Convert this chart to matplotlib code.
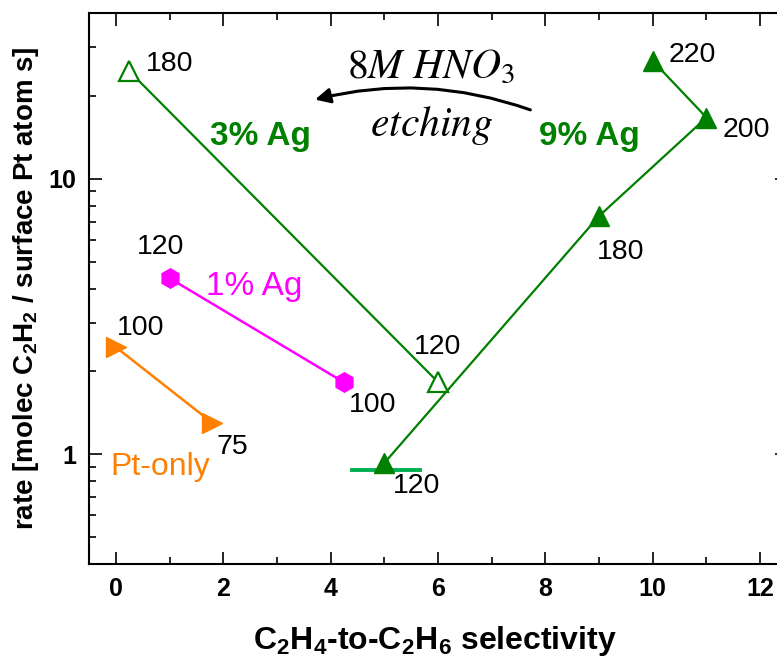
import numpy as np
import matplotlib
matplotlib.use('Agg')
import matplotlib.pyplot as plt

plt.rcParams['font.family'] = ['Liberation Sans', 'DejaVu Sans']
plt.rcParams['mathtext.fontset'] = 'custom'
plt.rcParams['mathtext.rm'] = 'Liberation Sans'
plt.rcParams['mathtext.bf'] = 'Liberation Sans:bold'
plt.rcParams['mathtext.it'] = 'Liberation Sans:italic'

# data
pt_x = [0.0, 1.8]
pt_y = [2.45, 1.30]
pt_T = ['100', '75']

ag1_x = [1.0, 4.24]
ag1_y = [4.36, 1.83]
ag1_T = ['120', '100']

ag3_x = [0.25, 6.0]
ag3_y = [24.6, 1.83]
ag3_T = ['180', '120']

ag9_x = [5.0, 9.0, 11.0, 10.0]
ag9_y = [0.93, 7.33, 16.7, 26.8]
ag9_T = ['120', '180', '200', '220']

bar_x = [4.4, 5.66]
bar_y = [0.88, 0.88]

green = '#008000'
magenta = '#ff00ff'
orange = '#ff8000'

fig = plt.figure(figsize=(7.77, 6.64), dpi=100)
ax = fig.add_axes([89/777, 100/664, 698/777, 551/664])
ax.set_yscale('log')

ax.plot(bar_x, bar_y, '-', color='#00b050', lw=2.8, zorder=2)
ax.plot(pt_x, pt_y, '-', color=orange, lw=1.8, marker='>', ms=14, mec=orange, mfc=orange, zorder=3)
ax.plot(ag1_x, ag1_y, '-', color=magenta, lw=1.8, marker='h', ms=14, mec=magenta, mfc=magenta, zorder=3)
ax.plot(ag3_x, ag3_y, '-', color=green, lw=1.6, marker='^', ms=14, mec=green, mfc='white', mew=1.6, zorder=3)
ax.plot(ag9_x, ag9_y, '-', color=green, lw=1.6, marker='^', ms=15, mec=green, mfc=green, zorder=3)

# temperature labels, offsets in pixels from each point
def temps(xs, ys, labels, offs):
    for x, y, s, o in zip(xs, ys, labels, offs):
        ax.annotate(s, (x, y), xytext=o, textcoords='offset pixels',
                    ha='center', va='center', fontsize=20.5, color='black')

temps(pt_x, pt_y, pt_T, [(25, 19), (20, -24)])
temps(ag1_x, ag1_y, ag1_T, [(-9, 31), (29, -23)])
temps(ag3_x, ag3_y, ag3_T, [(40, 7), (0, 35)])
temps(ag9_x, ag9_y, ag9_T, [(32, -23), (22, -36), (40, -12), (40, 6)])

ax.text(2.69, 14.2, '3% Ag', color=green, fontsize=24, fontweight='bold', ha='center', va='center')
ax.text(8.81, 14.3, '9% Ag', color=green, fontsize=24, fontweight='bold', ha='center', va='center')
ax.text(2.57, 4.08, '1% Ag', color=magenta, fontsize=24, ha='center', va='center')
ax.text(0.82, 0.90, 'Pt-only', color=orange, fontsize=23, ha='center', va='center')

ax.text(5.86, 25.5, r'$\mathit{8M\ HNO_3}$', math_fontfamily='stix', fontsize=30, ha='center', va='center')
ax.text(5.89, 15.6, r'$\mathit{etching}$', math_fontfamily='stix', fontsize=30, ha='center', va='center')
ax.annotate('', xy=(3.71, 19.4), xytext=(7.72, 17.8),
            arrowprops=dict(arrowstyle='-|>,head_length=0.9,head_width=0.45', color='black', lw=2.2,
                            connectionstyle='arc3,rad=0.15', shrinkA=0, shrinkB=0))

ax.set_xlim(-0.5, 12.5)
ax.set_ylim(0.4, 40)
ax.set_xticks([0, 2, 4, 6, 8, 10, 12])
ax.set_xticks([1, 3, 5, 7, 9, 11], minor=True)
ax.set_yticks([1, 10])
ax.set_yticklabels(['1', '10'])
ax.yaxis.set_minor_formatter(matplotlib.ticker.NullFormatter())
ax.tick_params(which='both', direction='in', top=True, right=True, width=1.2, labelsize=18, pad=9)
ax.tick_params(which='major', length=9)
ax.tick_params(which='minor', length=5)
for lab in ax.get_xticklabels() + ax.get_yticklabels():
    lab.set_fontweight('bold')
for sp in ax.spines.values():
    sp.set_linewidth(1.5)

ax.set_xlabel(r'C$_\mathbf{2}$H$_\mathbf{4}$-to-C$_\mathbf{2}$H$_\mathbf{6}$ selectivity', fontsize=23, fontweight='bold')
ax.set_ylabel(r'rate [molec C$_\mathbf{2}$H$_\mathbf{2}$ / surface Pt atom s]', fontsize=20, fontweight='bold')
ax.xaxis.set_label_coords(0.496, -0.108)
ax.yaxis.set_label_coords(-0.069, 0.5)

fig.savefig('out.png', dpi=100)
